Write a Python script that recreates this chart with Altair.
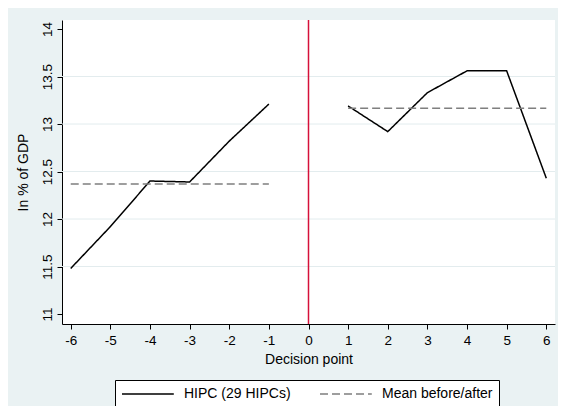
import altair as alt
import pandas as pd

# ---- data ----
before_x = [-6, -5, -4, -3, -2, -1]
before_y = [11.48, 11.92, 12.40, 12.39, 12.82, 13.21]
after_x = [1, 2, 3, 4, 5, 6]
after_y = [13.19, 12.92, 13.33, 13.56, 13.56, 12.43]
mean_before = 12.37
mean_after = 13.165
x_ticks = [-6, -5, -4, -3, -2, -1, 0, 1, 2, 3, 4, 5, 6]
y_ticks = [11, 11.5, 12, 12.5, 13, 13.5, 14]
grid_vals = [11.5, 12, 12.5, 13, 13.5]
decision = [0]

S_MAIN = "HIPC (29 HIPCs)"
S_MEAN = "Mean before/after"

rows = []
for x, y in zip(before_x, before_y):
    rows.append({"x": x, "y": y, "series": S_MAIN, "period": "main_before"})
for x, y in zip(after_x, after_y):
    rows.append({"x": x, "y": y, "series": S_MAIN, "period": "main_after"})
for x in [before_x[0], before_x[-1]]:
    rows.append({"x": x, "y": mean_before, "series": S_MEAN, "period": "mean_before"})
for x in [after_x[0], after_x[-1]]:
    rows.append({"x": x, "y": mean_after, "series": S_MEAN, "period": "mean_after"})
df = pd.DataFrame(rows)

BG = "#eaf2f3"
FONT = "Liberation Sans"

xscale = alt.Scale(domain=[-6.22, 6.22], nice=False, zero=False)
yscale = alt.Scale(domain=[10.895, 14.095], nice=False, zero=False)

legend_kw = dict(
    title=None,
    orient="none",
    legendX=53,
    legendY=360,
    direction="horizontal",
    columns=2,
    columnPadding=26,
    symbolType="M-1,0H6.4",
    symbolSize=196,
    symbolStrokeWidth=1.5,
    labelFontSize=14,
    labelFont=FONT,
    labelColor="#000000",
    labelOffset=47,
    strokeColor="#000000",
    fillColor="#ffffff",
    padding=6,
    labelLimit=300,
)

grid = alt.Chart(pd.DataFrame({"g": grid_vals})).mark_rule(
    color="#e3ecee", strokeWidth=1
).encode(y=alt.Y("g:Q", scale=yscale))

vline = alt.Chart(pd.DataFrame({"d": decision})).mark_rule(
    color="#d6103a", strokeWidth=1.5
).encode(x=alt.X("d:Q", scale=xscale))

lines = alt.Chart(df).mark_line(strokeWidth=1.5).encode(
    x=alt.X(
        "x:Q",
        scale=xscale,
        axis=alt.Axis(
            values=x_ticks,
            title="Decision point",
            grid=False,
            tickSize=5,
            labelPadding=4,
            titlePadding=6,
            labelExpr="'' + datum.value",
        ),
    ),
    y=alt.Y(
        "y:Q",
        scale=yscale,
        axis=alt.Axis(
            values=y_ticks,
            title="In % of GDP",
            grid=False,
            tickSize=5,
            labelAngle=270,
            labelAlign="center",
            labelBaseline="bottom",
            labelPadding=3,
            titlePadding=10,
            labelExpr="'' + datum.value",
        ),
    ),
    color=alt.Color(
        "series:N",
        scale=alt.Scale(domain=[S_MAIN, S_MEAN], range=["#000000", "#7f7f7f"]),
        legend=alt.Legend(**legend_kw),
    ),
    strokeDash=alt.StrokeDash(
        "series:N",
        scale=alt.Scale(domain=[S_MAIN, S_MEAN], range=[[1, 0], [8, 4]]),
        legend=alt.Legend(**legend_kw),
    ),
    detail="period:N",
)

chart = (
    alt.layer(grid, vline, lines)
    .properties(
        width=493,
        height=304,
        background=BG,
        padding={"left": 54, "top": 12, "right": 3, "bottom": 82},
        autosize=alt.AutoSizeParams(type="none"),
    )
    .configure_view(fill="#ffffff", stroke=None)
    .configure_axis(
        labelFont=FONT,
        titleFont=FONT,
        labelFontSize=13.5,
        titleFontSize=14,
        titleFontWeight="normal",
        labelColor="#000000",
        titleColor="#000000",
        domainColor="#000000",
        tickColor="#000000",
        domainWidth=1,
        tickWidth=1,
    )
)

chart.save("out.html", embed_options={"renderer": "svg", "actions": False})
